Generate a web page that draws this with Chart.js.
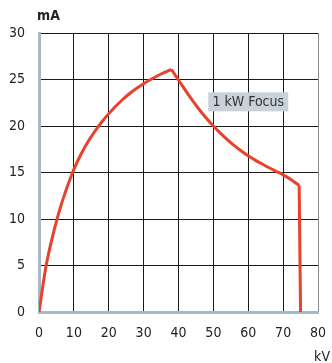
<!DOCTYPE html>
<html>
<head>
<meta charset="utf-8">
<script src="https://cdn.jsdelivr.net/npm/chart.js@4/dist/chart.umd.min.js"></script>
<style>
  html, body { margin: 0; padding: 0; background: #ffffff; }
  #wrap { width: 332px; height: 363px; }
</style>
</head>
<body>
<div id="wrap"><canvas id="c" width="332" height="363"></canvas></div>
<script>
// Tube voltage (kV) and current (mA) for the 1 kW focus limit curve
const kV = [0, 1, 2, 3, 4, 5, 6, 7, 8, 9, 10, 12, 14, 16, 18, 20, 22, 24, 26, 28, 30, 32, 34, 36, 38,
            39, 40, 42, 44, 46, 48, 50, 52, 54, 56, 58, 60, 62, 64, 66, 68, 70, 72, 74.6, 75];
const mA = [0, 2.55, 4.9, 6.7, 8.3, 9.75, 11.07, 12.27, 13.37, 14.39, 15.33, 16.93, 18.28, 19.43, 20.43, 21.33, 22.13, 22.85, 23.49, 24.05, 24.55, 25.0, 25.4, 25.76, 26.08,
            25.5, 24.95, 23.83, 22.75, 21.75, 20.83, 20.0, 19.23, 18.53, 17.89, 17.31, 16.79, 16.33, 15.91, 15.51, 15.13, 14.75, 14.31, 13.6, 0];

// Corners of the curve: current peak and the start of the cut-off
const peakKV = 38;
const cutoffKV = 74.6;

const xTicks = [0, 10, 20, 30, 40, 50, 60, 70, 80];
const yTicks = [0, 5, 10, 15, 20, 25, 30];
const seriesLabel = '1 kW Focus';
const xUnit = 'kV';
const yUnit = 'mA';

const FONT = '"Liberation Sans Narrow", "DejaVu Sans Condensed", "Liberation Sans", sans-serif';
const AXIS_BLUE = '#a8b7c4';
const RED = '#e8412c';

const points = kV.map((v, i) => ({ x: v, y: mA[i] }));
const iPeak = kV.indexOf(peakKV);
const iCut = kV.indexOf(cutoffKV);

// smooth pieces meet at sharp corners
function piece(from, to, smooth) {
  return {
    label: seriesLabel,
    data: points.slice(from, to + 1),
    borderColor: RED,
    borderWidth: 3,
    borderJoinStyle: 'miter',
    borderCapStyle: 'butt',
    pointRadius: 0,
    cubicInterpolationMode: smooth ? 'monotone' : 'default',
    tension: 0,
    fill: false
  };
}

// Unit captions and the boxed series label
const decorations = {
  id: 'decorations',
  afterDatasetsDraw(chart) {
    const { ctx, scales } = chart;
    ctx.save();
    ctx.fillStyle = '#222';
    ctx.font = 'bold 14px ' + FONT;
    ctx.textBaseline = 'alphabetic';
    ctx.textAlign = 'left';
    ctx.fillText(yUnit, 37, 20);
    ctx.font = '14px ' + FONT;
    ctx.textAlign = 'right';
    ctx.fillText(xUnit, 330, 361);

    // label box anchored in data space
    const cx = scales.x.getPixelForValue(60);
    const cy = scales.y.getPixelForValue(22.6);
    const w = 80, h = 19;
    ctx.fillStyle = '#c9d1d9';
    ctx.fillRect(cx - w / 2, cy - h / 2, w, h);
    ctx.fillStyle = '#333';
    ctx.textAlign = 'center';
    ctx.textBaseline = 'middle';
    ctx.fillText(seriesLabel, cx, cy + 1);
    ctx.restore();
  }
};

new Chart(document.getElementById('c'), {
  type: 'line',
  data: {
    datasets: [
      piece(0, iPeak, true),
      piece(iPeak, iCut, true),
      piece(iCut, kV.length - 1, false)
    ]
  },
  options: {
    responsive: false,
    animation: false,
    layout: { padding: { left: 0, top: 33, right: 14, bottom: 0 } },
    plugins: { legend: { display: false }, tooltip: { enabled: false } },
    scales: {
      x: {
        type: 'linear',
        min: 0, max: 80,
        afterBuildTicks(s) { s.ticks = xTicks.map(v => ({ value: v })); },
        afterFit(s) { s.height = 51; s.paddingLeft = 0; s.paddingRight = 0; },
        border: { display: true, color: AXIS_BLUE, width: 3 },
        grid: {
          drawTicks: false,
          lineWidth: 1,
          color: c => c.tick.value === 0 ? 'rgba(0,0,0,0)' : (c.tick.value === 80 ? '#8a8a8a' : '#1a1a1a')
        },
        ticks: { color: '#222', font: { family: FONT, size: 14 }, padding: 13, maxRotation: 0 }
      },
      y: {
        type: 'linear',
        min: 0, max: 30,
        afterBuildTicks(s) { s.ticks = yTicks.map(v => ({ value: v })); },
        afterFit(s) { s.width = 39; s.paddingTop = 0; s.paddingBottom = 0; },
        border: { display: true, color: AXIS_BLUE, width: 3 },
        grid: {
          drawTicks: false,
          lineWidth: 1,
          color: c => c.tick.value === 0 ? 'rgba(0,0,0,0)' : '#1a1a1a'
        },
        ticks: { color: '#222', font: { family: FONT, size: 14 }, padding: 14 }
      }
    }
  },
  plugins: [decorations]
});
</script>
</body>
</html>
